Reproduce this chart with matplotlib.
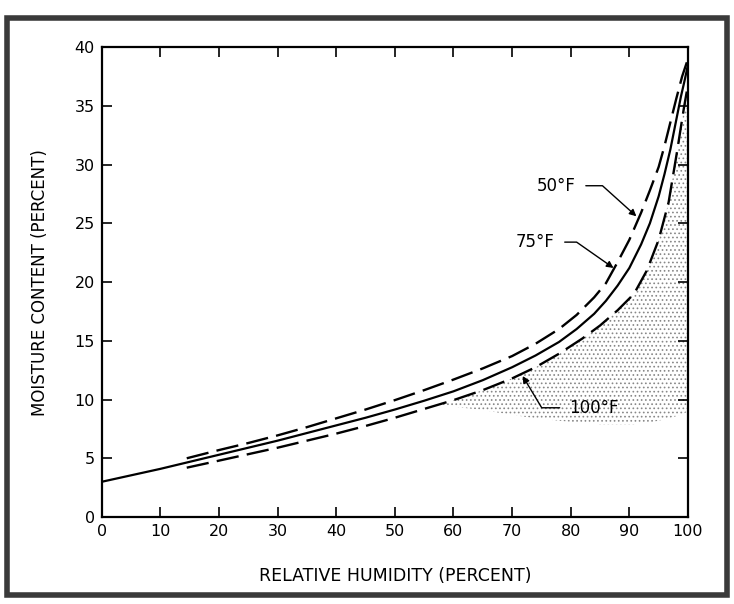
import numpy as np
import matplotlib.pyplot as plt
from matplotlib.patches import Rectangle

# relative humidity (percent) and moisture content (percent)
rh_75 = [0, 5, 10, 15, 20, 25, 30, 35, 40, 45, 50, 55, 60, 65, 70, 74, 78, 81, 84, 86, 88, 90, 92, 93.5,
         95, 96, 97, 98, 98.8, 99.4, 100]
mc_75 = [3.0, 3.55, 4.1, 4.7, 5.3, 5.9, 6.5, 7.15, 7.8, 8.45, 9.15, 9.9, 10.7, 11.65, 12.75, 13.75, 14.9,
         16.0, 17.3, 18.4, 19.7, 21.2, 23.2, 25.0, 27.3, 29.2, 31.3, 33.8, 35.8, 37.1, 38.5]

rh_50 = [14.5, 20, 25, 30, 35, 40, 45, 50, 55, 60, 65, 70, 74, 78, 81, 84, 86, 88, 90, 92, 93.5,
         95, 96, 97, 98, 99, 100]
mc_50 = [5.0, 5.7, 6.3, 6.95, 7.65, 8.4, 9.15, 9.95, 10.8, 11.7, 12.65, 13.7, 14.75, 16.0, 17.2, 18.7,
         19.9, 21.7, 23.6, 25.9, 27.8, 29.8, 31.6, 33.6, 35.6, 37.5, 39.0]

rh_100 = [14.5, 20, 25, 30, 35, 40, 45, 50, 55, 60, 65, 70, 74, 78, 82, 85, 88, 90.8, 93, 95, 96.7,
          98.1, 99.3, 100]
mc_100 = [4.2, 4.8, 5.35, 5.9, 6.5, 7.1, 7.75, 8.45, 9.2, 9.95, 10.8, 11.8, 12.75, 13.9, 15.2, 16.3,
          17.6, 19.0, 21.0, 23.6, 26.8, 31.0, 34.8, 36.8]

# lower edge of the stippled area
rh_shade = [57, 60, 65, 70, 74, 78, 82, 85, 88, 90.8, 93, 95, 96.7, 98.1, 99.3, 100]
mc_shade_low = [9.6, 9.4, 9.1, 8.7, 8.4, 8.2, 8.0, 7.9, 7.9, 7.9, 8.0, 8.2, 8.4, 8.6, 8.8, 9.0]

x_ticks = list(range(0, 101, 10))
y_ticks = list(range(0, 41, 5))

plt.rcParams['font.family'] = ['DejaVu Sans']
plt.rcParams['hatch.color'] = '#6e6e6e'
plt.rcParams['hatch.linewidth'] = 0.7

fig = plt.figure(figsize=(7.34, 6.04), dpi=100)
ax = fig.add_axes([0.1386, 0.144, 0.7987, 0.778])

# stippled region under the 100F curve
shade_top = np.interp(rh_shade, rh_100, mc_100)
ax.fill_between(rh_shade, mc_shade_low, shade_top, facecolor='none',
                edgecolor='#888888', hatch='....', linewidth=0)

dash = (9.5, 3.5)
ax.plot(rh_75, mc_75, color='black', lw=1.6, solid_capstyle='butt')
ax.plot(rh_50, mc_50, color='black', lw=1.7, dashes=dash)
ax.plot(rh_100, mc_100, color='black', lw=1.7, dashes=dash)

ax.set_xlim(0, 100)
ax.set_ylim(0, 40)
ax.set_xticks(x_ticks)
ax.set_yticks(y_ticks)
ax.tick_params(direction='in', length=7, width=1.2, top=True, right=True,
               labelsize=11.5, pad=5)
for s in ax.spines.values():
    s.set_linewidth(1.6)

ax.set_xlabel('RELATIVE HUMIDITY (PERCENT)', fontsize=12.5, labelpad=20)
ax.set_ylabel('MOISTURE CONTENT (PERCENT)', fontsize=12, labelpad=18)

arrow = dict(arrowstyle='-|>', color='black', lw=1.0, mutation_scale=10,
             shrinkA=5, shrinkB=0)
ax.annotate('50°F', xy=(91.2, 25.6), xytext=(77.6, 28.2), fontsize=12,
            ha='center', va='center',
            arrowprops=dict(arrow, connectionstyle='angle,angleA=0,angleB=138,rad=0'))
ax.annotate('75°F', xy=(87.3, 21.2), xytext=(74.0, 23.4), fontsize=12,
            ha='center', va='center',
            arrowprops=dict(arrow, connectionstyle='angle,angleA=0,angleB=145,rad=0'))
ax.annotate('100°F', xy=(71.8, 12.0), xytext=(84.0, 9.3), fontsize=12,
            ha='center', va='center',
            arrowprops=dict(arrow, connectionstyle='angle,angleA=180,angleB=121,rad=0'))

# frame round the whole figure
fig.patches.append(Rectangle((0.009, 0.015), 0.982, 0.955, transform=fig.transFigure,
                             fill=False, edgecolor='#3a3a3a', lw=4))

fig.savefig('out.png', dpi=100)
